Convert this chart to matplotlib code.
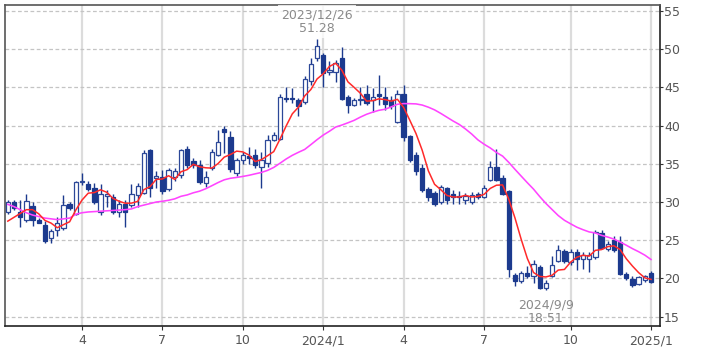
import matplotlib
matplotlib.use("Agg")
import matplotlib.pyplot as plt
import numpy as np

# Weekly candles, 2023/1/9 .. 2025/1/6 (index 0..104)
opens = [28.7, 30.0, 28.7, 27.6, 29.5, 27.7, 27.0, 25.3, 26.3, 26.6,
         29.7, 28.5, 32.6, 32.4, 31.8, 28.7, 30.8, 30.6, 28.7, 29.8,
         29.6, 30.9, 31.2, 36.8, 33.2, 33.3, 31.7, 33.3, 33.5, 36.9,
         35.4, 34.9, 32.5, 34.4, 36.2, 39.6, 38.5, 33.8, 35.5, 36.0,
         36.1, 34.6, 35.1, 38.1, 38.3, 43.6, 43.6, 43.4, 43.1, 45.8,
         48.8, 49.2, 47.0, 47.0, 48.8, 43.8, 42.7, 43.4, 44.2, 43.4,
         44.2, 43.8, 43.3, 40.5, 44.2, 38.6, 36.1, 34.4, 31.7, 31.2,
         30.0, 31.8, 31.0, 30.8, 30.3, 30.0, 31.1, 30.7, 32.9, 34.6,
         33.1, 31.4, 20.4, 19.7, 20.7, 20.3, 21.5, 18.7, 20.3, 22.3,
         23.6, 22.2, 23.5, 22.6, 22.6, 22.8, 25.9, 23.9, 25.0, 24.8,
         20.6, 19.9, 19.3, 19.8, 20.7]
highs = [30.3, 30.3, 30.3, 31.0, 30.0, 27.9, 27.5, 26.5, 28.0, 30.9,
         30.0, 32.8, 33.8, 32.7, 32.5, 32.4, 31.6, 31.0, 30.3, 30.3,
         32.3, 32.5, 36.8, 37.0, 34.0, 34.2, 34.4, 34.5, 37.0, 37.3,
         35.8, 35.5, 34.0, 36.9, 39.4, 40.0, 39.3, 35.7, 36.5, 37.2,
         36.9, 36.6, 38.8, 39.2, 44.1, 45.1, 44.9, 43.6, 46.5, 48.8,
         51.28, 49.5, 48.4, 48.6, 50.3, 44.0, 43.6, 45.1, 45.3, 44.9,
         46.6, 45.1, 43.9, 44.6, 45.3, 38.8, 36.5, 35.0, 32.0, 31.5,
         32.2, 32.0, 31.6, 31.4, 31.2, 31.3, 31.3, 32.2, 35.4, 37.0,
         33.5, 31.6, 20.7, 21.0, 21.6, 22.4, 21.8, 19.8, 22.9, 24.4,
         23.8, 23.9, 23.9, 23.4, 23.4, 26.4, 26.3, 24.9, 25.6, 25.6,
         20.9, 20.3, 20.3, 20.5, 21.0]
lows = [28.5, 29.0, 26.7, 27.4, 26.9, 27.2, 24.6, 24.6, 25.6, 26.4,
        29.0, 28.3, 32.2, 31.5, 29.8, 28.3, 29.4, 28.5, 28.1, 26.7,
        29.4, 29.4, 31.0, 30.7, 31.8, 31.1, 31.4, 32.8, 33.2, 34.5,
        34.5, 32.3, 32.0, 34.2, 36.0, 36.4, 33.9, 33.4, 35.0, 35.0,
        34.5, 31.9, 34.6, 38.0, 38.1, 43.1, 43.0, 41.2, 42.8, 45.3,
        48.5, 45.1, 46.6, 45.7, 43.3, 41.6, 42.5, 42.7, 42.7, 41.8,
        42.7, 42.0, 42.2, 40.3, 38.0, 35.2, 33.6, 31.3, 30.2, 29.5,
        29.8, 29.8, 29.8, 29.8, 29.8, 29.8, 30.4, 30.5, 32.8, 32.7,
        30.9, 20.2, 19.0, 19.4, 20.0, 19.4, 18.6, 18.51, 20.2, 22.2,
        22.0, 21.7, 21.1, 21.3, 20.9, 22.6, 23.9, 23.6, 23.5, 20.5,
        19.8, 18.9, 19.1, 19.6, 19.4]
closes = [30.0, 29.2, 28.0, 30.2, 27.6, 27.3, 24.9, 26.2, 27.2, 29.6,
          29.2, 32.6, 32.7, 31.7, 30.0, 31.0, 31.0, 28.7, 29.8, 28.7,
          31.1, 32.1, 36.4, 31.8, 33.4, 31.4, 34.2, 34.0, 36.8, 34.8,
          34.9, 32.6, 33.3, 36.6, 37.8, 39.1, 34.3, 35.5, 36.1, 35.7,
          34.9, 35.5, 38.1, 38.8, 43.8, 43.5, 43.5, 42.5, 46.1, 48.0,
          50.4, 46.9, 47.3, 48.2, 43.5, 42.7, 43.3, 43.5, 43.0, 43.8,
          43.9, 42.8, 42.5, 44.2, 38.5, 35.5, 34.1, 31.6, 30.7, 29.7,
          32.0, 30.3, 30.6, 30.7, 30.8, 30.9, 30.7, 31.9, 34.6, 32.9,
          31.1, 21.3, 19.7, 20.7, 20.3, 21.9, 18.7, 19.4, 21.8, 23.7,
          22.3, 23.5, 22.6, 23.1, 23.1, 26.1, 24.0, 24.5, 23.7, 20.6,
          20.1, 19.2, 20.2, 20.3, 19.6]

# moving averages (short: red, long: magenta)
ma_short = [27.5, 28.0, 28.5, 29.0, 29.0, 28.46, 27.6, 27.24, 26.64, 27.04,
            27.42, 28.96, 30.26, 31.16, 31.24, 31.6, 31.28, 30.48, 30.1, 29.84,
            29.86, 30.08, 31.62, 32.02, 32.96, 33.02, 33.44, 32.96, 33.96, 34.24,
            34.94, 34.62, 34.48, 34.44, 35.04, 35.88, 36.22, 36.66, 36.56, 36.14,
            35.3, 35.54, 36.06, 36.6, 38.22, 39.94, 41.54, 42.42, 43.88, 44.72,
            46.1, 46.78, 47.74, 48.16, 47.26, 45.72, 45.0, 44.24, 43.2, 43.26,
            43.5, 43.4, 43.2, 43.44, 42.38, 40.7, 38.96, 36.78, 34.08, 32.32,
            31.62, 30.86, 30.66, 30.66, 30.88, 30.66, 30.74, 31.0, 31.78, 32.2,
            32.24, 30.36, 27.92, 25.14, 22.62, 20.78, 20.26, 20.2, 20.42, 21.1,
            21.18, 22.14, 22.78, 23.04, 22.92, 23.68, 23.78, 24.16, 24.28, 23.78,
            22.58, 21.62, 20.76, 20.08, 19.88]
ma_long = [29.7, 29.4, 29.0, 28.6, 28.3, 28.1, 27.9, 27.8, 27.7, 27.8,
           27.9, 28.4, 28.6, 28.7, 28.75, 28.8, 28.85, 28.9, 28.95, 29.0,
           29.1, 29.4, 29.6, 29.8, 30.0, 30.1, 30.23, 30.42, 30.75, 30.93,
           31.21, 31.42, 31.74, 32.14, 32.55, 32.91, 33.11, 33.22, 33.35, 33.5,
           33.69, 33.87, 34.14, 34.53, 35.07, 35.63, 36.11, 36.51, 36.88, 37.51,
           38.16, 38.76, 39.26, 39.81, 40.07, 40.37, 40.69, 41.11, 41.48, 41.76,
           42.0, 42.14, 42.45, 42.79, 42.88, 42.87, 42.84, 42.69, 42.41, 42.06,
           41.6, 41.1, 40.6, 40.15, 39.56, 38.9, 38.14, 37.57, 37.08, 36.49,
           36.01, 35.19, 34.28, 33.4, 32.53, 31.69, 30.72, 29.82, 29.02, 28.23,
           27.61, 27.15, 26.71, 26.38, 26.09, 25.95, 25.64, 25.42, 25.15, 24.77,
           24.35, 23.9, 23.5, 23.05, 22.48]

tick_idx = [12, 25, 38, 51, 64, 77, 91, 104]
tick_labels = ["4", "7", "10", "2024/1", "4", "7", "10", "2025/1"]
y_ticks = [15, 20, 25, 30, 35, 40, 45, 50, 55]

hi_idx, hi_date, hi_val = 50, "2023/12/26", 51.28
lo_idx, lo_date, lo_val = 87, "2024/9/9", 18.51

navy = "#1c3a8e"
fig = plt.figure(figsize=(7.09, 3.54), dpi=100)
ax = fig.add_axes([4.7 / 709, 1 - 325.7 / 354, (660 - 4.7) / 709, (325.7 - 5) / 354])

x = np.arange(len(closes))
o = np.array(opens); c = np.array(closes)
h = np.array(highs); l = np.array(lows)

# grid
for t in tick_idx:
    ax.axvline(t, color="#dcdcdc", lw=1.6, zorder=0)
for v in y_ticks:
    ax.axhline(v, color="#c4c4c4", lw=0.9, ls=(0, (3, 2)), zorder=0)

up = c >= o
ax.vlines(x, l, h, color=navy, lw=1.0, zorder=2)
bw = 0.7
bottom = np.minimum(o, c)
height = np.maximum(np.abs(c - o), 0.08)
ax.bar(x[up], height[up], bottom=bottom[up], width=bw, facecolor="white",
       edgecolor="#2c4898", linewidth=0.9, zorder=3)
ax.bar(x[~up], height[~up], bottom=bottom[~up], width=bw, facecolor=navy,
       edgecolor=navy, linewidth=0.9, zorder=3)

ax.plot(x, ma_long, color="#ff44ff", lw=1.15, zorder=4)
ax.plot(x, ma_short, color="#ff2a2a", lw=1.1, zorder=5)

ax.set_xlim(-0.5, 105.45)
ax.set_ylim(13.82, 55.78)

ax.yaxis.tick_right()
ax.set_yticks(y_ticks)
ax.set_yticklabels([str(v) for v in y_ticks])
ax.set_xticks(tick_idx)
ax.set_xticklabels(tick_labels)
ax.tick_params(axis="y", labelsize=9, labelcolor="#555555", length=2, pad=1, color="#333333")
ax.tick_params(axis="x", labelsize=9, labelcolor="#555555", length=3, pad=3, color="#333333")

for side in ["left", "top"]:
    ax.spines[side].set_color("#555555")
    ax.spines[side].set_linewidth(1.2)
for side in ["right", "bottom"]:
    ax.spines[side].set_color("#222222")
    ax.spines[side].set_linewidth(1.2)

ax.annotate(f"{hi_date}\n{hi_val:.2f}", xy=(hi_idx, hi_val), xytext=(0, 3.5),
            textcoords="offset points", ha="center", va="bottom", fontsize=9,
            color="#8a8a8a", linespacing=1.05, zorder=6, annotation_clip=False,
            bbox=dict(boxstyle="square,pad=0.25", facecolor="white", edgecolor="none", alpha=0.8))
ax.annotate(f"{lo_date}\n{lo_val:.2f}", xy=(lo_idx, lo_val), xytext=(0, -6),
            textcoords="offset points", ha="center", va="top", fontsize=9,
            color="#8a8a8a", linespacing=1.05, zorder=6)

fig.savefig("out.png", dpi=100)
